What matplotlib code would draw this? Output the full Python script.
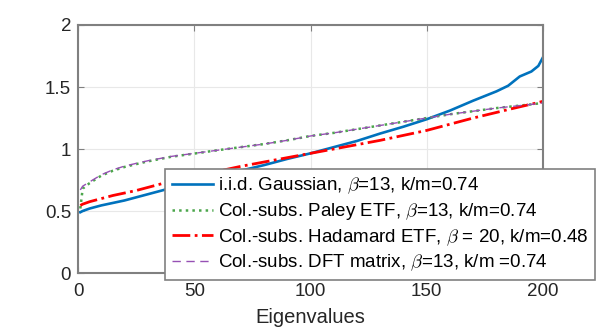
import matplotlib
matplotlib.use('Agg')
import matplotlib.pyplot as plt

# eigenvalue index and sorted eigenvalues
idx = [1, 2, 5, 10, 15, 20, 25, 30, 40, 50, 60, 70, 80, 90, 100, 110,
       120, 130, 140, 150, 160, 170, 180, 185, 190, 195, 198, 200]

gauss = [0.49, 0.50, 0.52, 0.545, 0.565, 0.585, 0.61, 0.635, 0.685, 0.73,
         0.78, 0.825, 0.87, 0.92, 0.965, 1.015, 1.065, 1.125, 1.18, 1.24,
         1.31, 1.39, 1.465, 1.51, 1.585, 1.625, 1.67, 1.74]

paley = [0.52, 0.68, 0.725, 0.785, 0.825, 0.855, 0.878, 0.90, 0.937, 0.963,
         0.99, 1.015, 1.04, 1.07, 1.105, 1.13, 1.16, 1.19, 1.22, 1.25,
         1.28, 1.305, 1.33, 1.34, 1.35, 1.36, 1.367, 1.375]

hadamard = [0.545, 0.555, 0.575, 0.60, 0.625, 0.645, 0.665, 0.69, 0.74, 0.78,
            0.82, 0.86, 0.895, 0.93, 0.965, 1.00, 1.035, 1.07, 1.11, 1.15,
            1.20, 1.25, 1.295, 1.318, 1.34, 1.362, 1.375, 1.385]

dft = [0.67, 0.70, 0.735, 0.792, 0.832, 0.862, 0.884, 0.905, 0.94, 0.965,
       0.99, 1.015, 1.04, 1.07, 1.105, 1.13, 1.16, 1.19, 1.22, 1.25,
       1.28, 1.305, 1.33, 1.34, 1.35, 1.36, 1.365, 1.372]

labels = [r'i.i.d. Gaussian, $\beta$=13, k/m=0.74',
          r'Col.-subs. Paley ETF, $\beta$=13, k/m=0.74',
          r'Col.-subs. Hadamard ETF, $\beta$ = 20, k/m=0.48',
          r'Col.-subs. DFT matrix, $\beta$=13, k/m =0.74']

plt.rcParams['font.family'] = ['Liberation Sans', 'DejaVu Sans']
plt.rcParams['font.size'] = 13.5
plt.rcParams['mathtext.fontset'] = 'cm'

fig = plt.figure(figsize=(6, 3.32), dpi=100)
ax = fig.add_axes([0.13, 0.1777, 0.775, 0.747])

ax.plot(idx, gauss, color='#0072BD', lw=1.9, ls='-', label=labels[0])
ax.plot(idx, paley, color='#4CA64C', lw=1.8, ls=':', label=labels[1])
ax.plot(idx, hadamard, color='#FF0000', lw=2.0, ls='-.', label=labels[2])
ax.plot(idx, dft, color='#9650B4', lw=1.0, ls=(0, (6, 4)), label=labels[3])

ax.set_xlim(0, 200)
ax.set_ylim(0, 2)
ax.set_xticks([0, 50, 100, 150, 200])
ax.set_yticks([0, 0.5, 1, 1.5, 2])
ax.set_yticklabels(['0', '0.5', '1', '1.5', '2'])
ax.grid(True, color='#e8e8e8', lw=0.8)
ax.set_axisbelow(True)
ax.tick_params(direction='in', top=True, right=True, colors='#808080',
               labelcolor='#262626', length=4, width=0.8, labelsize=13.5)
ax.tick_params(axis='x', pad=7)
ax.tick_params(axis='y', pad=5)
for s in ax.spines.values():
    s.set_color('#808080')
    s.set_linewidth(1.5)
ax.set_xlabel('Eigenvalues', color='#262626', fontsize=14.5, labelpad=6)

leg = ax.legend(loc='upper left', bbox_to_anchor=(0.275, 0.491),
                bbox_transform=fig.transFigure, borderaxespad=0,
                fontsize=13.5, handlelength=2.2, handletextpad=0.3,
                borderpad=0.35, labelspacing=0.27, fancybox=False,
                framealpha=1)
leg.get_frame().set_edgecolor('#808080')
leg.get_frame().set_linewidth(1.2)

fig.savefig('out.png', dpi=100)
